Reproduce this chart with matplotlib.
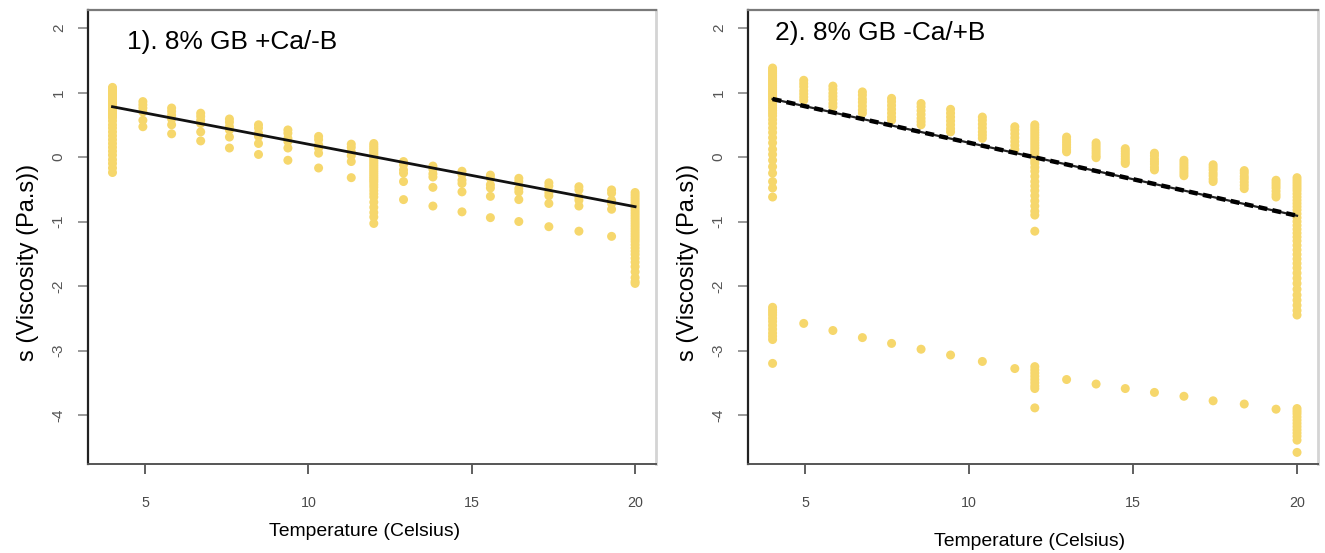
import matplotlib
matplotlib.use("Agg")
import matplotlib.pyplot as plt
from matplotlib import font_manager

# ---- data: viscosity (log scale s) against temperature ----
# Panel 1: 8% GB +Ca/-B
temps_a = [4.0, 4.93, 5.81, 6.70, 7.58, 8.47, 9.37, 10.31, 11.31, 12.0,
           12.91, 13.81, 14.70, 15.57, 16.44, 17.36, 18.28, 19.28, 20.0]
s_a = [
    [1.08, 1.06, 1.04, 1.02, 1.00, 0.98, 0.96, 0.94, 0.92, 0.90, 0.88, 0.86,
     0.84, 0.82, 0.80, 0.78, 0.76, 0.73, 0.70, 0.67, 0.64, 0.61, 0.56, 0.50,
     0.45, 0.39, 0.33, 0.27, 0.21, 0.15, 0.09, 0.03, -0.04, -0.10, -0.17, -0.24],
    [0.86, 0.81, 0.76, 0.70, 0.57, 0.47],
    [0.76, 0.71, 0.65, 0.59, 0.50, 0.36],
    [0.68, 0.63, 0.57, 0.52, 0.39, 0.25],
    [0.59, 0.54, 0.47, 0.42, 0.31, 0.14],
    [0.50, 0.45, 0.37, 0.32, 0.21, 0.04],
    [0.42, 0.37, 0.29, 0.24, 0.14, -0.05],
    [0.32, 0.27, 0.19, 0.14, 0.06, -0.17],
    [0.20, 0.15, 0.08, 0.02, -0.07, -0.32],
    [0.21, 0.18, 0.15, 0.12, 0.09, 0.06, 0.03, 0.00, -0.03, -0.06, -0.09,
     -0.12, -0.15, -0.18, -0.21, -0.24, -0.27, -0.30, -0.33, -0.36, -0.39,
     -0.43, -0.47, -0.52, -0.57, -0.62, -0.70, -0.78, -0.86, -0.93, -1.03],
    [-0.07, -0.12, -0.20, -0.25, -0.38, -0.66],
    [-0.14, -0.19, -0.26, -0.31, -0.47, -0.76],
    [-0.22, -0.27, -0.36, -0.41, -0.54, -0.85],
    [-0.28, -0.33, -0.43, -0.48, -0.61, -0.94],
    [-0.33, -0.38, -0.49, -0.54, -0.66, -1.00],
    [-0.40, -0.45, -0.55, -0.60, -0.72, -1.08],
    [-0.46, -0.51, -0.62, -0.67, -0.76, -1.15],
    [-0.51, -0.56, -0.67, -0.72, -0.81, -1.23],
    [-0.55, -0.59, -0.63, -0.67, -0.71, -0.75, -0.79, -0.83, -0.87, -0.91,
     -0.95, -0.99, -1.03, -1.07, -1.11, -1.15, -1.19, -1.23, -1.27, -1.31,
     -1.36, -1.41, -1.46, -1.51, -1.57, -1.63, -1.70, -1.78, -1.87, -1.93, -1.96],
]
fit_a_t = [4.0, 20.0]
fit_a_s = [0.78, -0.77]

# Panel 2: 8% GB -Ca/+B (upper and lower branches)
temps_b = [4.0, 4.95, 5.84, 6.74, 7.63, 8.53, 9.43, 10.40, 11.39, 12.0,
           12.97, 13.87, 14.76, 15.65, 16.55, 17.44, 18.39, 19.36, 20.0]
s_b_upper = [
    [1.38, 1.35, 1.32, 1.29, 1.26, 1.23, 1.20, 1.17, 1.14, 1.11, 1.08, 1.05,
     1.02, 0.99, 0.96, 0.93, 0.90, 0.87, 0.84, 0.80, 0.76, 0.72, 0.68, 0.64,
     0.58, 0.52, 0.45, 0.38, 0.30, 0.22, 0.12, 0.04, -0.05, -0.15, -0.25,
     -0.38, -0.48, -0.62],
    [1.19, 1.14, 1.09, 1.03, 0.98, 0.93, 0.88],
    [1.10, 1.05, 0.99, 0.94, 0.89, 0.83, 0.78],
    [1.01, 0.96, 0.90, 0.85, 0.79, 0.73, 0.68],
    [0.91, 0.86, 0.80, 0.74, 0.68, 0.62, 0.57],
    [0.83, 0.78, 0.72, 0.66, 0.60, 0.55, 0.50],
    [0.74, 0.68, 0.62, 0.56, 0.50, 0.44, 0.39],
    [0.62, 0.57, 0.51, 0.45, 0.39, 0.34, 0.29],
    [0.47, 0.42, 0.36, 0.30, 0.24, 0.18, 0.12],
    [0.50, 0.46, 0.42, 0.38, 0.34, 0.30, 0.26, 0.22, 0.18, 0.14, 0.10, 0.06,
     0.02, -0.02, -0.06, -0.10, -0.16, -0.22, -0.30, -0.38, -0.45, -0.52,
     -0.60, -0.68, -0.76, -0.84, -0.90, -1.15],
    [0.31, 0.27, 0.23, 0.19, 0.15, 0.11, 0.08],
    [0.22, 0.18, 0.14, 0.10, 0.06, 0.02, -0.01],
    [0.13, 0.09, 0.05, 0.01, -0.03, -0.07, -0.10],
    [0.06, 0.02, -0.03, -0.07, -0.11, -0.16, -0.20],
    [-0.05, -0.09, -0.13, -0.17, -0.21, -0.25, -0.29],
    [-0.12, -0.16, -0.20, -0.25, -0.29, -0.34, -0.38],
    [-0.21, -0.25, -0.30, -0.34, -0.39, -0.44, -0.49],
    [-0.36, -0.40, -0.44, -0.48, -0.53, -0.58, -0.62],
    [-0.32, -0.36, -0.40, -0.44, -0.48, -0.52, -0.57, -0.62, -0.67, -0.72,
     -0.77, -0.82, -0.88, -0.94, -1.00, -1.06, -1.12, -1.18, -1.24, -1.30,
     -1.37, -1.44, -1.51, -1.58, -1.65, -1.72, -1.80, -1.88, -1.96, -2.05,
     -2.14, -2.22, -2.30, -2.38, -2.45],
]
s_b_lower = [
    [-2.33, -2.37, -2.41, -2.45, -2.50, -2.55, -2.61, -2.67, -2.73, -2.78,
     -2.83, -3.20],
    [-2.58], [-2.69], [-2.80], [-2.89], [-2.98], [-3.07], [-3.17], [-3.28],
    [-3.25, -3.30, -3.35, -3.40, -3.45, -3.50, -3.55, -3.59, -3.89],
    [-3.45], [-3.52], [-3.59], [-3.65], [-3.71], [-3.78], [-3.83], [-3.91],
    [-3.90, -3.94, -3.98, -4.03, -4.08, -4.13, -4.18, -4.23, -4.28, -4.33,
     -4.39, -4.58],
]
fit_b_t = [4.0, 20.0]
fit_b_s = [0.90, -0.91]

x_ticks = [5, 10, 15, 20]
y_ticks = [-4, -3, -2, -1, 0, 1, 2]
x_label = "Temperature (Celsius)"
y_label = "s (Viscosity (Pa.s))"
titles = ["1). 8% GB +Ca/-B", "2). 8% GB -Ca/+B"]

# ---- fonts ----
installed = {f.name for f in font_manager.fontManager.ttflist}
base_font = "Liberation Sans" if "Liberation Sans" in installed else "DejaVu Sans"
narrow_font = "Liberation Sans Narrow" if "Liberation Sans Narrow" in installed else base_font
narrow_scale = 1.0 if narrow_font != base_font else 0.82
plt.rcParams["font.family"] = [base_font, "DejaVu Sans"]

POINT = "#F6D76C"
W, H = 1325, 553

fig = plt.figure(figsize=(W / 100, H / 100), dpi=100)
fig.patch.set_facecolor("white")


def flatten(temps, groups):
    xs, ys = [], []
    for t, vals in zip(temps, groups):
        xs.extend([t] * len(vals))
        ys.extend(vals)
    return xs, ys


def style_axes(ax):
    ax.set_xlim(3.25, 20.64)
    ax.set_ylim(-4.76, 2.28)
    ax.set_xticks(x_ticks)
    ax.set_yticks(y_ticks)
    ax.set_xticklabels([str(v) for v in x_ticks], family=[narrow_font, "DejaVu Sans"],
                       fontsize=12.5 * narrow_scale, color="#4a4a4a")
    ax.set_yticklabels([str(v) for v in y_ticks], rotation=90, va="center",
                       fontsize=11, color="#555555")
    ax.tick_params(axis="x", length=7, width=1.2, color="#444444", pad=16)
    ax.tick_params(axis="y", length=7, width=1.2, color="#888888", pad=9)
    ax.spines["left"].set_color("#222222")
    ax.spines["left"].set_linewidth(1.6)
    ax.spines["bottom"].set_color("#555555")
    ax.spines["bottom"].set_linewidth(1.4)
    ax.spines["top"].set_color("#7a7a7a")
    ax.spines["top"].set_linewidth(1.6)
    ax.spines["right"].set_color("#d4d4d4")
    ax.spines["right"].set_linewidth(2.0)


ax1 = fig.add_axes([88 / W, (H - 464) / H, (656 - 88) / W, (464 - 10) / H])
ax2 = fig.add_axes([748 / W, (H - 464) / H, (1318 - 748) / W, (464 - 10) / H])

xa, ya = flatten(temps_a, s_a)
ax1.scatter(xa, ya, s=42, color=POINT, edgecolors="none", zorder=2)
ax1.plot(fit_a_t, fit_a_s, color="#111111", lw=2.0, zorder=3)
style_axes(ax1)

xu, yu = flatten(temps_b, s_b_upper)
xl, yl = flatten(temps_b, s_b_lower)
ax2.scatter(xu, yu, s=42, color=POINT, edgecolors="none", zorder=2)
ax2.scatter(xl, yl, s=42, color=POINT, edgecolors="none", zorder=2)
ax2.plot(fit_b_t, fit_b_s, color="#222222", lw=1.6, zorder=3)
ax2.plot(fit_b_t, fit_b_s, color="#000000", lw=3.2, ls=(0, (2.0, 1.2)), zorder=3)
style_axes(ax2)

# panel titles inside the plotting area
fig.text(127 / W, 1 - 42 / H, titles[0], fontsize=23 * narrow_scale,
         family=[narrow_font, "DejaVu Sans"], va="center", ha="left", color="black")
fig.text(775 / W, 1 - 33 / H, titles[1], fontsize=23 * narrow_scale,
         family=[narrow_font, "DejaVu Sans"], va="center", ha="left", color="black")

# axis labels
fig.text(365 / W, 1 - 531 / H, x_label, fontsize=17 * narrow_scale,
         family=[narrow_font, "DejaVu Sans"], ha="center", va="center")
fig.text(1030 / W, 1 - 541 / H, x_label, fontsize=17 * narrow_scale,
         family=[narrow_font, "DejaVu Sans"], ha="center", va="center")
fig.text(28 / W, 1 - 262 / H, y_label, fontsize=17, rotation=90,
         ha="center", va="center")
fig.text(688 / W, 1 - 262 / H, y_label, fontsize=17, rotation=90,
         ha="center", va="center")

fig.savefig("out.png", dpi=100, facecolor="white")
